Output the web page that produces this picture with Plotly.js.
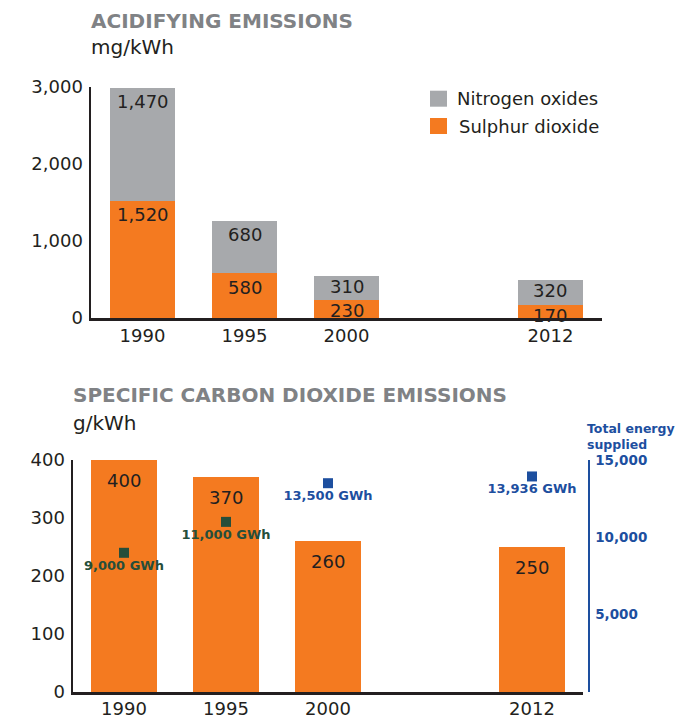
<!DOCTYPE html>
<html>
<head>
<meta charset="utf-8">
<script src="https://cdn.plot.ly/plotly-3.0.1.min.js"></script>
<style>
  html, body { margin: 0; padding: 0; background: #fff; }
  #chart { width: 689px; height: 718px; }
</style>
</head>
<body>
<div id="chart"></div>
<script>
// ---- Data ----
const years = ['1990', '1995', '2000', '2012'];
const axisCategories = ['1990', '1995', '2000', ' ', '2012'];
const sulphurDioxide = [1520, 580, 230, 170];
const nitrogenOxides = [1470, 680, 310, 320];
const co2Emissions = [400, 370, 260, 250];
const energySupplied = [9000, 11000, 13500, 13936];
const energyTicks = [5000, 10000, 15000];

// ---- Styling ----
const W = 689, H = 718;
const px = x => x / W;
const py = y => 1 - y / H;
const ORANGE = '#f47a20';
const GREY = '#a7a9ac';
const BLUE = '#1d4f9f';
const GREEN = '#264e3a';
const DARK = '#231f20';
const TITLE_GREY = '#808285';
const FONT = 'DejaVu Sans';
const fmt = v => v.toLocaleString('en-US');
const catIndex = yr => axisCategories.indexOf(yr);
const labelShift = v => (v < 400 ? -10.5 : -14);

// energy point colour: dark where it sits over an orange bar
const pointColors = energySupplied.map((v, i) => {
  const ySc = v / 15000 * 400;
  return ySc < co2Emissions[i] ? GREEN : BLUE;
});

const traces = [
  {
    type: 'bar', name: 'Sulphur dioxide', x: years, y: sulphurDioxide,
    marker: { color: ORANGE }, xaxis: 'x', yaxis: 'y', showlegend: false
  },
  {
    type: 'bar', name: 'Nitrogen oxides', x: years, y: nitrogenOxides,
    marker: { color: GREY }, xaxis: 'x', yaxis: 'y', showlegend: false
  },
  {
    type: 'bar', name: 'CO2', x: years, y: co2Emissions,
    marker: { color: ORANGE }, xaxis: 'x2', yaxis: 'y3', showlegend: false
  },
  {
    type: 'scatter', mode: 'markers+text', name: 'Total energy supplied',
    x: years, y: energySupplied, xaxis: 'x2', yaxis: 'y4',
    marker: { symbol: 'square', size: 10, color: pointColors },
    text: energySupplied.map(v => fmt(v) + ' GWh'),
    textposition: 'bottom center',
    textfont: { family: FONT, size: 13, weight: 700, color: pointColors },
    showlegend: false, cliponaxis: false
  }
];

const annotations = [];
const valFont = { family: FONT, size: 18, color: DARK };
// bar segment labels
years.forEach((yr, i) => {
  const xi = catIndex(yr);
  annotations.push({
    xref: 'x', yref: 'y', x: xi, y: sulphurDioxide[i], yshift: labelShift(sulphurDioxide[i]),
    text: fmt(sulphurDioxide[i]), showarrow: false, yanchor: 'middle', font: valFont
  });
  annotations.push({
    xref: 'x', yref: 'y', x: xi, y: sulphurDioxide[i] + nitrogenOxides[i], yshift: labelShift(nitrogenOxides[i]),
    text: fmt(nitrogenOxides[i]), showarrow: false, yanchor: 'middle', font: valFont
  });
  annotations.push({
    xref: 'x2', yref: 'y3', x: xi, y: co2Emissions[i], yshift: -20,
    text: fmt(co2Emissions[i]), showarrow: false, yanchor: 'middle', font: valFont
  });
});

// titles
annotations.push(
  { xref: 'paper', yref: 'paper', x: px(89), y: py(21), xanchor: 'left', yanchor: 'middle',
    text: 'ACIDIFYING EMISSIONS', showarrow: false,
    font: { family: FONT, size: 20, weight: 700, color: TITLE_GREY } },
  { xref: 'paper', yref: 'paper', x: px(89), y: py(46.5), xanchor: 'left', yanchor: 'middle',
    text: 'mg/kWh', showarrow: false,
    font: { family: FONT, size: 20, color: DARK } },
  { xref: 'paper', yref: 'paper', x: px(71), y: py(395), xanchor: 'left', yanchor: 'middle',
    text: 'SPECIFIC CARBON DIOXIDE EMISSIONS', showarrow: false,
    font: { family: FONT, size: 20, weight: 700, color: TITLE_GREY } },
  { xref: 'paper', yref: 'paper', x: px(71), y: py(423), xanchor: 'left', yanchor: 'middle',
    text: 'g/kWh', showarrow: false,
    font: { family: FONT, size: 20, color: DARK } },
  { xref: 'paper', yref: 'paper', x: px(585), y: py(436), xanchor: 'left', yanchor: 'middle',
    text: 'Total energy<br>supplied', showarrow: false, align: 'left',
    font: { family: FONT, size: 12.5, weight: 700, color: BLUE } },
  // legend text
  { xref: 'paper', yref: 'paper', x: px(455), y: py(98.7), xanchor: 'left', yanchor: 'middle',
    text: 'Nitrogen oxides', showarrow: false, font: valFont },
  { xref: 'paper', yref: 'paper', x: px(457), y: py(126), xanchor: 'left', yanchor: 'middle',
    text: 'Sulphur dioxide', showarrow: false, font: valFont }
);

const shapes = [
  { type: 'rect', xref: 'paper', yref: 'paper', x0: px(430), x1: px(447), y0: py(106.7), y1: py(90.7),
    fillcolor: GREY, line: { width: 0 } },
  { type: 'rect', xref: 'paper', yref: 'paper', x0: px(430), x1: px(447), y0: py(134), y1: py(118),
    fillcolor: ORANGE, line: { width: 0 } }
];

const tickFont = { family: FONT, size: 18, color: DARK };

const layout = {
  width: W, height: H,
  margin: { l: 0, r: 0, t: 0, b: 0, pad: 0 },
  paper_bgcolor: '#fff', plot_bgcolor: 'rgba(0,0,0,0)',
  barmode: 'stack', bargap: 0.36,
  showlegend: false,
  xaxis: {
    domain: [px(91), px(602)], anchor: 'y',
    type: 'category', categoryorder: 'array', categoryarray: axisCategories,
    range: [-0.505, 4.505], fixedrange: true,
    showline: true, linecolor: DARK, linewidth: 2.5,
    showgrid: false, zeroline: false, ticks: '', tickfont: tickFont, ticklabelstandoff: 0
  },
  yaxis: {
    domain: [py(318), py(87)], anchor: 'x',
    range: [0, 3000], tickvals: [0, 1000, 2000, 3000], tickformat: ',',
    showline: true, linecolor: DARK, linewidth: 2.5,
    showgrid: false, zeroline: false, ticks: '', tickfont: tickFont, ticklabelstandoff: 2
  },
  xaxis2: {
    domain: [px(73), px(583)], anchor: 'y3',
    type: 'category', categoryorder: 'array', categoryarray: axisCategories,
    range: [-0.5, 4.5],
    showline: true, linecolor: DARK, linewidth: 2.5,
    showgrid: false, zeroline: false, ticks: '', tickfont: tickFont, ticklabelstandoff: -1
  },
  yaxis3: {
    domain: [py(692), py(460)], anchor: 'x2',
    range: [0, 400], tickvals: [0, 100, 200, 300, 400],
    showline: true, linecolor: DARK, linewidth: 2.5,
    showgrid: false, zeroline: false, ticks: '', tickfont: tickFont, ticklabelstandoff: 2
  },
  yaxis4: {
    overlaying: 'y3', side: 'right', anchor: 'free', position: px(588),
    range: [0, 15000], tickvals: energyTicks, tickformat: ',',
    showline: true, linecolor: BLUE, linewidth: 1.5,
    showgrid: false, zeroline: false, ticks: '',
    tickfont: { family: FONT, size: 13.5, weight: 700, color: BLUE }, ticklabelstandoff: 3
  },
  annotations: annotations,
  shapes: shapes
};

Plotly.newPlot('chart', traces, layout, { staticPlot: true, displayModeBar: false });
</script>
</body>
</html>
